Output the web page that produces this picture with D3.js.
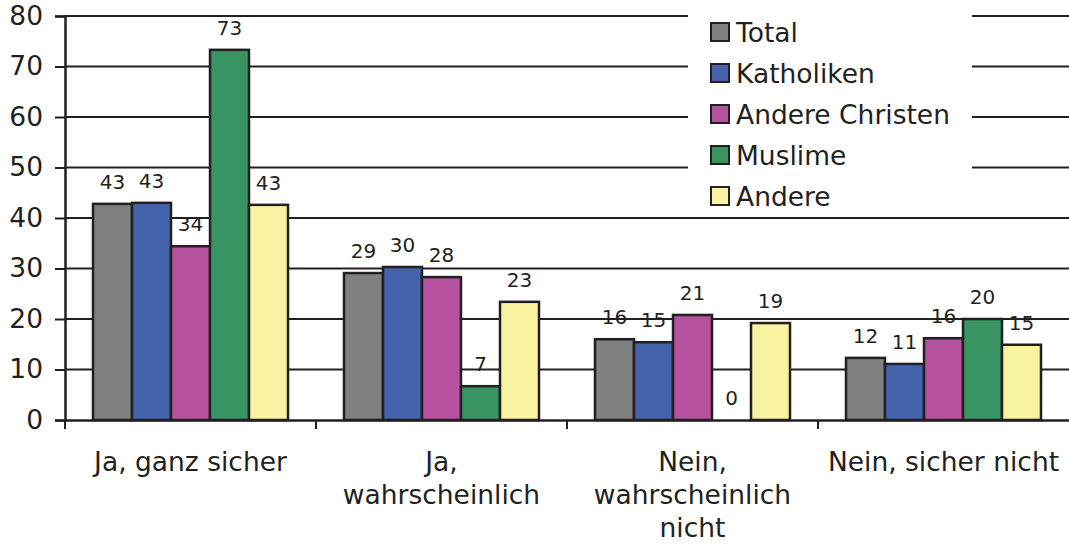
<!DOCTYPE html>
<html>
<head>
<meta charset="utf-8">
<script src="https://cdn.jsdelivr.net/npm/d3@7"></script>
<style>
  body { margin: 0; background: #fff; }
  svg text { font-family: "DejaVu Sans", Verdana, sans-serif; fill: #231f20; }
</style>
</head>
<body>
<svg id="chart" width="1069" height="544"></svg>
<script>
var categories = ["Ja, ganz sicher", "Ja, wahrscheinlich", "Nein, wahrscheinlich nicht", "Nein, sicher nicht"];
var categoryLines = [["Ja, ganz sicher"], ["Ja,", "wahrscheinlich"], ["Nein,", "wahrscheinlich", "nicht"], ["Nein, sicher nicht"]];
var seriesNames = ["Total", "Katholiken", "Andere Christen", "Muslime", "Andere"];
var seriesColors = ["#808080", "#4563ad", "#b5519d", "#389563", "#f7f3a0"];

var total = [42.8, 29.1, 16.0, 12.3];
var katholiken = [43.0, 30.3, 15.4, 11.1];
var andereChristen = [34.4, 28.3, 20.8, 16.2];
var muslime = [73.3, 6.7, 0, 20.0];
var andere = [42.6, 23.4, 19.2, 14.9];
var yTicks = [0, 10, 20, 30, 40, 50, 60, 70, 80];

var seriesValues = [total, katholiken, andereChristen, muslime, andere];

var svg = d3.select("#chart");
var plotLeft = 65, plotRight = 1069, plotTop = 16, plotBottom = 420;
var ink = "#231f20";

var xScale = d3.scaleBand().domain(categories).range([plotLeft, plotRight]).padding(0);
var innerPad = 28;
var xInner = d3.scaleBand().domain(seriesNames)
  .range([innerPad, xScale.bandwidth() - innerPad]).padding(0);
var yScale = d3.scaleLinear().domain([0, 80]).range([plotBottom, plotTop]);

// gridlines
svg.append("g").selectAll("line")
  .data(yTicks.filter(function(d){ return d > 0; }))
  .enter().append("line")
    .attr("x1", plotLeft).attr("x2", plotRight)
    .attr("y1", function(d){ return yScale(d); })
    .attr("y2", function(d){ return yScale(d); })
    .attr("stroke", ink).attr("stroke-width", 2);

// y axis
var yAxis = d3.axisLeft(yScale).tickValues(yTicks).tickSize(10).tickPadding(12);
var yg = svg.append("g")
  .attr("transform", "translate(" + plotLeft + ",0)")
  .call(yAxis);
yg.select(".domain").attr("stroke", ink).attr("stroke-width", 2.5);
yg.selectAll(".tick line").attr("stroke", ink).attr("stroke-width", 2);
yg.selectAll(".tick text").attr("font-size", 26.5).attr("fill", ink)
  .style("font-family", "'DejaVu Sans', Verdana, sans-serif");

// bars
var rows = [];
categories.forEach(function(c, i){
  seriesNames.forEach(function(s, j){
    rows.push({cat: c, series: s, value: seriesValues[j][i], color: seriesColors[j]});
  });
});

svg.append("g").selectAll("rect")
  .data(rows.filter(function(d){ return d.value > 0; }))
  .enter().append("rect")
    .attr("x", function(d){ return xScale(d.cat) + xInner(d.series); })
    .attr("y", function(d){ return yScale(d.value); })
    .attr("width", xInner.bandwidth())
    .attr("height", function(d){ return yScale(0) - yScale(d.value); })
    .attr("fill", function(d){ return d.color; })
    .attr("stroke", ink).attr("stroke-width", 2.5);

// value labels
svg.append("g").selectAll("text")
  .data(rows)
  .enter().append("text")
    .attr("x", function(d){ return xScale(d.cat) + xInner(d.series) + xInner.bandwidth()/2; })
    .attr("y", function(d){ return yScale(d.value) - 15; })
    .attr("text-anchor", "middle")
    .attr("font-size", 20)
    .text(function(d){ return d3.format(".0f")(d.value); });

// x axis
var xAxis = d3.axisBottom(xScale).tickSize(0).tickFormat("");
var xg = svg.append("g")
  .attr("transform", "translate(0," + plotBottom + ")")
  .call(xAxis);
xg.select(".domain").attr("stroke", ink).attr("stroke-width", 2.5);
xg.selectAll(".tick").remove();

svg.append("g").selectAll("line")
  .data(categories)
  .enter().append("line")
    .attr("x1", function(d){ return xScale(d); })
    .attr("x2", function(d){ return xScale(d); })
    .attr("y1", plotBottom).attr("y2", plotBottom + 9)
    .attr("stroke", ink).attr("stroke-width", 2);

var catText = svg.append("g").selectAll("text")
  .data(categories)
  .enter().append("text")
    .attr("x", function(d){ return xScale(d) + xScale.bandwidth()/2; })
    .attr("y", 471)
    .attr("text-anchor", "middle")
    .attr("font-size", 26.5);
catText.each(function(d, i){
  var t = d3.select(this);
  categoryLines[i].forEach(function(line, k){
    t.append("tspan")
      .attr("x", xScale(d) + xScale.bandwidth()/2)
      .attr("dy", k === 0 ? 0 : 33)
      .text(line);
  });
});

// legend
var legend = svg.append("g");
legend.append("rect")
  .attr("x", 688).attr("y", 0)
  .attr("width", 284).attr("height", 210)
  .attr("fill", "#fff");

var legendItem = legend.selectAll("g")
  .data(seriesNames)
  .enter().append("g")
    .attr("transform", function(d, i){ return "translate(711," + (32 + i * 41) + ")"; });

legendItem.append("rect")
  .attr("x", 0).attr("y", -9)
  .attr("width", 18).attr("height", 18)
  .attr("fill", function(d, i){ return seriesColors[i]; })
  .attr("stroke", ink).attr("stroke-width", 2);

legendItem.append("text")
  .attr("x", 25).attr("y", 0)
  .attr("dy", "0.36em")
  .attr("font-size", 26.5)
  .text(function(d){ return d; });
</script>
</body>
</html>
